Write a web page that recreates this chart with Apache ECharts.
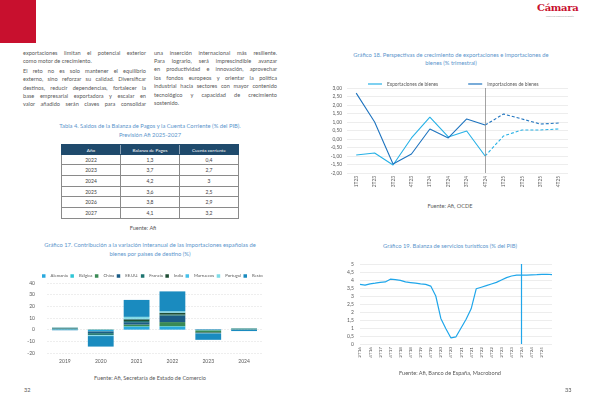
<!DOCTYPE html>
<html><head><meta charset="utf-8">
<script src="https://cdn.jsdelivr.net/npm/echarts@6/dist/echarts.min.js"></script>
<style>
body{margin:0;width:600px;height:406px;overflow:hidden;background:#fff;font-family:Lato,'Open Sans',sans-serif;position:relative;}
.ln{position:absolute;font-size:5.6px;color:#595959;white-space:nowrap;line-height:8px;height:8px;}
.j{text-align:justify;text-align-last:justify;}
.c1{left:23px;width:123px;}
.c2{left:154px;width:123px;}
.tt{position:absolute;font-size:5.8px;color:#5b95cc;text-align:center;white-space:nowrap;line-height:8px;}
.src{position:absolute;font-size:5.6px;color:#595959;text-align:center;white-space:nowrap;line-height:8px;}
.chart{position:absolute;}
#tbl{position:absolute;left:61px;top:143.5px;width:178px;}
.row{display:flex;height:10.7px;box-sizing:border-box;border-left:0.8px solid #8a8a8a;border-right:0.8px solid #8a8a8a;border-bottom:0.8px solid #8a8a8a;}
.row div{flex:1;text-align:center;font-size:5px;line-height:10px;color:#404040;}
.row div+div{border-left:0.8px solid #8a8a8a;}
.hdr{background:#1f4a6c;border:0.8px solid #1f4a6c;height:11px;}
.hdr div{color:#fff;font-size:4.6px;}
.hdr div+div{border-left:0.8px solid #8aa0b4;}
</style></head>
<body>
<div style="position:absolute;left:0;top:0;width:36px;height:43px;background:#c8102e;"></div>
<div style="position:absolute;left:537px;top:2px;font-size:10px;font-weight:bold;color:#c8102e;font-family:'DejaVu Serif',serif;letter-spacing:-0.3px;">Cámara</div>
<div style="position:absolute;left:546px;top:15px;font-size:2px;color:#999;white-space:nowrap;">Cámara de Comercio de España</div>

<div class="ln c1 j" style="top:48.7px">exportaciones limitan el potencial exterior</div>
<div class="ln c1" style="top:57px">como motor de crecimiento.</div>
<div class="ln c1 j" style="top:67px">El reto no es solo mantener el equilibrio</div>
<div class="ln c1 j" style="top:75.3px">externo, sino reforzar su calidad. Diversificar</div>
<div class="ln c1 j" style="top:83.6px">destinos, reducir dependencias, fortalecer la</div>
<div class="ln c1 j" style="top:91.9px">base empresarial exportadora y escalar en</div>
<div class="ln c1 j" style="top:100.2px">valor añadido serán claves para consolidar</div>

<div class="ln c2 j" style="top:48.7px">una inserción internacional más resiliente.</div>
<div class="ln c2 j" style="top:57px">Para lograrlo, será imprescindible avanzar</div>
<div class="ln c2 j" style="top:65.4px">en productividad e innovación, aprovechar</div>
<div class="ln c2 j" style="top:73.8px">los fondos europeos y orientar la política</div>
<div class="ln c2 j" style="top:82.2px">industrial hacia sectores con mayor contenido</div>
<div class="ln c2 j" style="top:90.6px">tecnológico y capacidad de crecimiento</div>
<div class="ln c2" style="top:99px">sostenido.</div>

<div class="tt" style="left:0;width:300px;top:122px">Tabla 4. Saldos de la Balanza de Pagos y la Cuenta Corriente (% del PIB).</div>
<div class="tt" style="left:0;width:300px;top:130.5px">Previsión Afi 2025-2027</div>
<div id="tbl"></div>
<div class="src" style="left:0;width:286px;top:223.7px">Fuente: Afi</div>

<div class="tt" style="left:0;width:300px;top:241px">Gráfico 17. Contribución a la variación interanual de las importaciones españolas de</div>
<div class="tt" style="left:0;width:300px;top:250px">bienes por países de destino (%)</div>
<div id="c17" class="chart" style="left:0;top:262px;width:300px;height:110px;"></div>
<div class="src" style="left:0;width:300px;top:373.7px">Fuente: Afi, Secretaría de Estado de Comercio</div>
<div class="src" style="left:24px;top:386px">32</div>

<div class="tt" style="left:300px;width:302px;top:50.5px">Gráfico 18. Perspectivas de crecimiento de exportaciones e importaciones de</div>
<div class="tt" style="left:300px;width:302px;top:58.5px">bienes (% trimestral)</div>
<div id="c18" class="chart" style="left:300px;top:70px;width:300px;height:130px;"></div>
<div class="src" style="left:300px;width:300px;top:201.7px">Fuente: Afi, OCDE</div>

<div class="tt" style="left:300px;width:300px;top:241.7px">Gráfico 19. Balanza de servicios turísticos (% del PIB)</div>
<div id="c19" class="chart" style="left:300px;top:255px;width:300px;height:115px;"></div>
<div class="src" style="left:300px;width:300px;top:369.3px">Fuente: Afi, Banco de España, Macrobond</div>
<div class="src" style="left:565px;top:386px">33</div>

<script>
// ---- Tabla 4 ----
const tblHeaders = ['Año', 'Balanza de Pagos', 'Cuenta corriente'];
const tblYears = [2022, 2023, 2024, 2025, 2026, 2027];
const tblBalanza = [1.3, 3.7, 4.2, 3.6, 3.8, 4.1];
const tblCuenta = [0.4, 2.7, 3, 2.5, 2.9, 3.2];

// ---- Gráfico 17 ----
const c17Years = ['2019', '2020', '2021', '2022', '2023', '2024'];
const c17Names = ['Alemania', 'Bélgica', 'China', 'EE.UU.', 'Francia', 'India', 'Marruecos', 'Portugal', 'Resto'];
const alemania  = [0.3, -1.2, 2.4, 2.5, -0.5, 0.2];
const belgica   = [0.1, -0.3, 0.5, 0.5, -0.2, 0.1];
const china     = [0.5, 0.2, 1.5, 3.5, -1.5, 0.4];
const eeuu      = [0.3, -1.5, 2.0, 5.5, 0.3, -0.2];
const francia   = [0.4, -1.5, 1.0, 1.0, -0.3, 0.3];
const india     = [0.1, -0.1, 1.5, 1.5, -0.5, 0.1];
const marruecos = [0.1, -0.4, 0.6, 0.3, 0.2, 0.1];
const portugal  = [0.1, -0.5, 1.5, 1.0, -0.2, 0.1];
const resto     = [-0.5, -9.0, 14.5, 17.0, -5.5, -1.0];
const c17Colors = ['#29a9de', '#2fc6d6', '#3a8a55', '#1b5c86', '#1d7470', '#1e4d33', '#45c0ea', '#7ddbe6', '#1a8bbf'];

// ---- Gráfico 18 ----
const c18Quarters = ['1T23', '2T23', '3T23', '4T23', '1T24', '2T24', '3T24', '4T24', '1T25', '2T25', '3T25', '4T25'];
const exportaciones = [-0.94, -0.82, -1.53, 0.06, 1.29, 0.12, 0.47, -1.0, 0.18, 0.53, 0.53, 0.59];
const importaciones = [2.7, 1.0, -1.47, -0.88, 0.59, 0.06, 1.18, 0.82, 1.47, 1.18, 0.88, 0.94];
const c18ForecastIdx = 7;

// ---- Gráfico 19 ----
const c19Quarters = ['2T16','3T16','4T16','1T17','2T17','3T17','4T17','1T18','2T18','3T18','4T18','1T19','2T19','3T19','4T19',
  '1T20','2T20','3T20','4T20','1T21','2T21','3T21','4T21','1T22','2T22','3T22','4T22','1T23','2T23','3T23','4T23',
  '1T24','2T24','3T24','4T24','1T25','2T25','3T25','4T25'];
const turismo = [3.73, 3.68, 3.76, 3.80, 3.85, 3.88, 4.05, 4.02, 3.98, 3.88, 3.84, 3.80, 3.76, 3.73, 3.62,
  3.0, 1.6, 0.95, 0.38, 0.45, 1.0, 1.55, 2.2, 3.45, 3.55, 3.65, 3.75, 3.85, 4.0, 4.15, 4.25,
  4.3, 4.31, 4.31, 4.32, 4.33, 4.35, 4.36, 4.33];
const c19ForecastIdx = 32;

const fmtEs = v => String(v).replace('.', ',');

// table
(function(){
  const t = document.getElementById('tbl');
  let h = '<div class="row hdr">' + tblHeaders.map(x => '<div>' + x + '</div>').join('') + '</div>';
  tblYears.forEach((y, i) => {
    h += '<div class="row"><div>' + y + '</div><div>' + fmtEs(tblBalanza[i]) + '</div><div>' + fmtEs(tblCuenta[i]) + '</div></div>';
  });
  t.innerHTML = h;
})();

const FONT = 'Lato, sans-serif';
const LBL = '#595959';

// chart 17
const c17Data = [alemania, belgica, china, eeuu, francia, india, marruecos, portugal, resto];
const ch17 = echarts.init(document.getElementById('c17'));
ch17.setOption({
  animation: false,
  textStyle: {fontFamily: FONT},
  legend: {
    top: 7, left: 37, itemWidth: 3.5, itemHeight: 3.5, itemGap: 2.5, icon: 'rect',
    textStyle: {fontSize: 4.3, color: LBL, fontFamily: FONT},
    data: c17Names
  },
  grid: {left: 47, right: 38, top: 21, bottom: 19},
  xAxis: {
    type: 'category', data: c17Years,
    axisLine: {show: false, onZero: false}, axisTick: {show: false},
    axisLabel: {fontSize: 5, color: LBL, margin: 6, fontFamily: FONT}
  },
  yAxis: {
    type: 'value', min: -20, max: 40, interval: 10,
    axisLine: {show: false}, axisTick: {show: false},
    axisLabel: {fontSize: 5, color: LBL, margin: 12, fontFamily: FONT},
    splitLine: {lineStyle: {color: '#dcdcdc', width: 0.5, type: [2, 1]}}
  },
  series: c17Names.map((n, i) => ({
    name: n, type: 'bar', stack: 'total', data: c17Data[i], barWidth: '72%',
    itemStyle: {color: c17Colors[i]}
  }))
});

// chart 18
const solidPart = arr => arr.map((v, i) => i <= c18ForecastIdx ? v : '-');
const dashPart = arr => arr.map((v, i) => i >= c18ForecastIdx ? v : '-');
const cExp = '#27b1e6', cImp = '#1f74bf';
const ch18 = echarts.init(document.getElementById('c18'));
ch18.setOption({
  animation: false,
  textStyle: {fontFamily: FONT},
  legend: {
    top: 6.5, left: 63, itemWidth: 14, itemHeight: 1.2, itemGap: 30, icon: 'rect',
    textStyle: {fontSize: 4.8, color: LBL, fontFamily: FONT},
    data: ['Exportaciones de bienes', 'Importaciones de bienes']
  },
  grid: {left: 47, right: 32, top: 18, bottom: 27},
  xAxis: {
    type: 'category', data: c18Quarters, boundaryGap: true,
    axisLine: {show: false, onZero: false}, axisTick: {show: false},
    axisLabel: {fontSize: 4.8, color: LBL, rotate: 90, margin: 3, interval: 0, fontFamily: FONT}
  },
  yAxis: {
    type: 'value', min: -2, max: 3, interval: 0.5,
    axisLine: {show: false}, axisTick: {show: false},
    axisLabel: {fontSize: 4.8, color: LBL, margin: 5, formatter: v => v.toFixed(2).replace('.', ','), fontFamily: FONT},
    splitLine: {lineStyle: {color: '#e0e0e0', width: 0.6}}
  },
  series: [
    {name: 'Exportaciones de bienes', type: 'line', data: solidPart(exportaciones), symbol: 'none',
     lineStyle: {color: cExp, width: 1.1}, itemStyle: {color: cExp},
     markLine: {silent: true, symbol: 'none', label: {show: false},
       lineStyle: {color: '#8c8c8c', width: 0.8, type: 'solid'}, data: [{xAxis: c18ForecastIdx}]}},
    {name: 'Exportaciones de bienes', type: 'line', data: dashPart(exportaciones), symbol: 'none',
     lineStyle: {color: cExp, width: 1.1, type: [3, 2]}, itemStyle: {color: cExp}},
    {name: 'Importaciones de bienes', type: 'line', data: solidPart(importaciones), symbol: 'none',
     lineStyle: {color: cImp, width: 1.1}, itemStyle: {color: cImp}},
    {name: 'Importaciones de bienes', type: 'line', data: dashPart(importaciones), symbol: 'none',
     lineStyle: {color: cImp, width: 1.1, type: [3, 2]}, itemStyle: {color: cImp}}
  ]
});

// chart 19
const cTur = '#1fa6ea';
const ch19 = echarts.init(document.getElementById('c19'));
ch19.setOption({
  animation: false,
  textStyle: {fontFamily: FONT},
  grid: {left: 60, right: 48, top: 9, bottom: 26},
  xAxis: {
    type: 'category', data: c19Quarters, boundaryGap: false,
    axisLine: {show: false}, axisTick: {show: false},
    axisLabel: {fontSize: 4.6, color: LBL, rotate: 90, margin: 3, fontFamily: FONT,
      interval: (i) => i % 2 === 0 && i < c19Quarters.length - 1}
  },
  yAxis: {
    type: 'value', min: 0, max: 5, interval: 0.5,
    axisLine: {show: false}, axisTick: {show: false},
    axisLabel: {fontSize: 5, color: LBL, margin: 6, formatter: v => fmtEs(v), fontFamily: FONT},
    splitLine: {lineStyle: {color: '#e0e0e0', width: 0.6}}
  },
  series: [{
    name: 'Balanza de servicios turísticos', type: 'line', data: turismo, symbol: 'none',
    lineStyle: {color: cTur, width: 1.2},
    markLine: {silent: true, symbol: 'none', label: {show: false},
      lineStyle: {color: cTur, width: 1.2, type: 'solid', opacity: 1}, data: [{xAxis: c19ForecastIdx}]}
  }]
});
</script>
</body></html>
